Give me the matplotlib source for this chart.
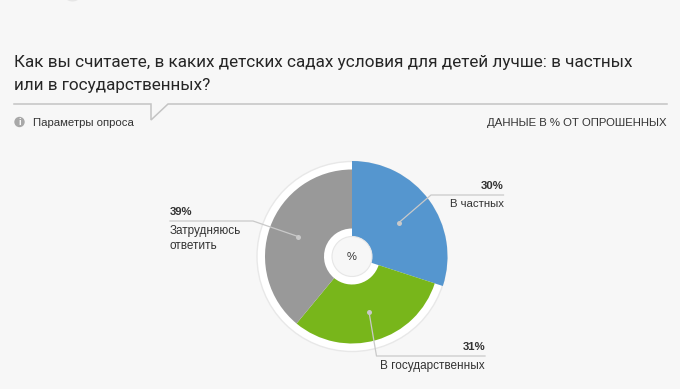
import matplotlib
matplotlib.use("Agg")
from matplotlib import pyplot as plt
from matplotlib.patches import Circle

title = "Как вы считаете, в каких детских садах условия для детей лучше: в частных\nили в государственных?"
categories = ["В частных", "В государственных", "Затрудняюсь\nответить"]
values = [30, 31, 39]
colors = ["#5596cf", "#78b61b", "#999999"]

W = 680
H = 389
BG = "#f7f7f7"
LINE = "#c4c4c4"
TXT = "#333333"
FS = 8.2


def Y(y):
    # picture coordinates go downwards
    return H - y


fig = plt.figure(figsize=(W / 100, H / 100), dpi=100, facecolor=BG)
ax = fig.add_axes([0, 0, 1, 1])
ax.set_facecolor(BG)

cx = 352
cy = Y(256.5)

# white disc under the pie
ax.add_patch(Circle((cx, cy), 95, fc="white", ec="#e8e8e8", lw=1, zorder=1))

wedges, _ = ax.pie(values, colors=colors, startangle=90, counterclock=False,
                   center=(cx, cy), radius=87, wedgeprops={"width": 59, "zorder": 2})
# first slice sticks out
wedges[0].set_radius(95.5)
wedges[0].set_width(75.5)

ax.set_xlim(0, W)
ax.set_ylim(0, H)
ax.set_aspect("equal")
ax.axis("off")

# bit of a cut off logo at the very top
ax.add_patch(Circle((72.5, Y(-9)), 10.5, fc="#e6e6e6", ec="none"))

# centre
ax.add_patch(Circle((cx, cy), 20, fc=BG, ec="#e6e6e6", lw=0.8, zorder=3))
ax.text(cx, cy, "%", ha="center", va="center", fontsize=8, color="#333333",
        family="Liberation Sans", zorder=4)

# title
ax.text(14, Y(62.5), title.split("\n")[0], ha="left", va="center", fontsize=12.35, color="#262626",
        family="Roboto")
ax.text(14, Y(85.5), title.split("\n")[1], ha="left", va="center", fontsize=12.35, color="#262626",
        family="Roboto")

# header line with notch
ax.plot([14, 151, 151, 168, 667], [Y(104), Y(104), Y(120), Y(104), Y(104)],
        color=LINE, lw=1.1, solid_joinstyle="miter")

ax.add_patch(Circle((19.5, Y(122)), 5.2, fc="#a8a8a8", ec="none"))
ax.text(19.5, Y(122), "i", ha="center", va="center", fontsize=6.5, color="white",
        family="Liberation Sans", weight="bold")
ax.text(33, Y(123), "Параметры опроса", ha="left", va="center", fontsize=FS,
        color=TXT, family="Liberation Sans")
ax.text(667, Y(123), "ДАННЫЕ В % ОТ ОПРОШЕННЫХ", ha="right", va="center", fontsize=FS,
        color=TXT, family="Liberation Sans")

# leader lines: dot, elbow, end of the line
leaders = [
    [(399, 222.5), (431, 195), (503.5, 195)],
    [(369, 312), (376.5, 356), (485, 356)],
    [(298, 236.5), (253, 221), (170, 221)],
]
for pts in leaders:
    xs = [p[0] for p in pts]
    ys = [Y(p[1]) for p in pts]
    ax.plot(xs, ys, color="#c9c9c9", lw=0.9, zorder=5)
    ax.plot(xs[0], ys[0], "o", ms=3.6, color="#c9c9c9", mew=0, zorder=6)

# labels
ax.text(503.5, Y(185.5), f"{values[0]}%", ha="right", va="center", fontsize=FS, weight="bold",
        color=TXT, family="Liberation Sans")
ax.text(503.5, Y(204), categories[0], ha="right", va="center", fontsize=FS,
        color=TXT, family="Liberation Sans")
ax.text(485, Y(346.5), f"{values[1]}%", ha="right", va="center", fontsize=FS, weight="bold",
        color=TXT, family="Liberation Sans")
ax.text(485, Y(365.5), categories[1], ha="right", va="center", fontsize=8.5,
        color=TXT, family="Liberation Sans")
ax.text(170, Y(211.5), f"{values[2]}%", ha="left", va="center", fontsize=FS, weight="bold",
        color=TXT, family="Liberation Sans")
ax.text(170, Y(230.5), categories[2].split("\n")[0], ha="left", va="center", fontsize=8.5,
        color=TXT, family="Liberation Sans")
ax.text(170, Y(246), categories[2].split("\n")[1], ha="left", va="center", fontsize=8.5,
        color=TXT, family="Liberation Sans")

fig.savefig("out.png", dpi=100, facecolor=BG)
